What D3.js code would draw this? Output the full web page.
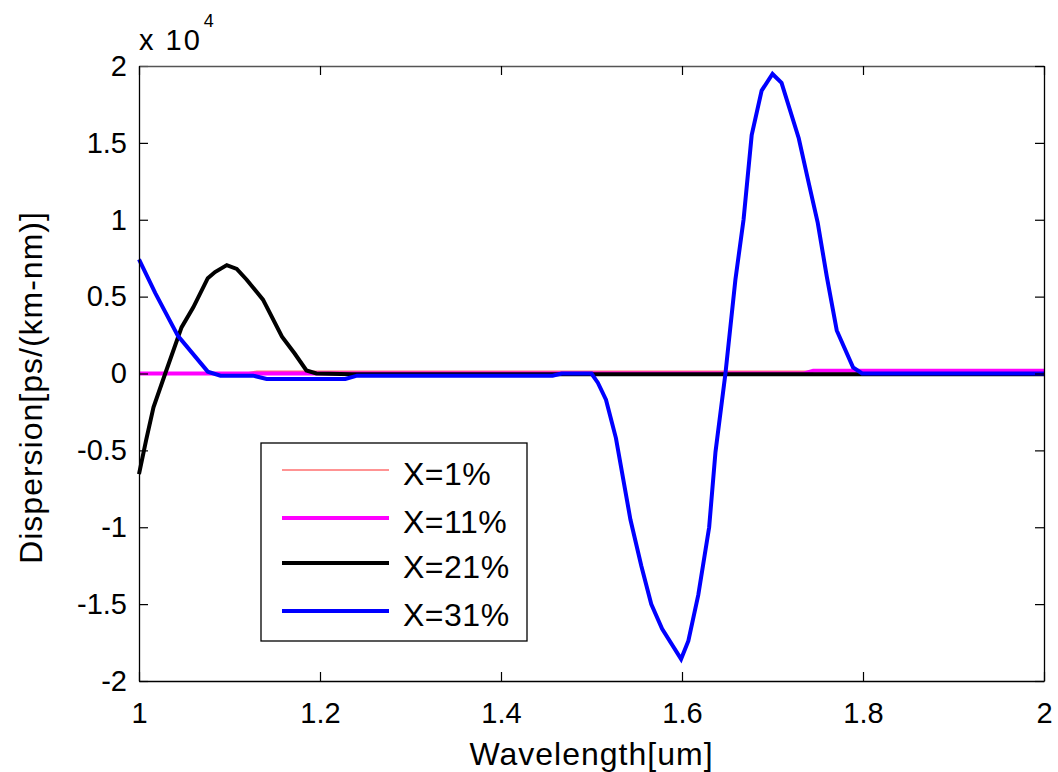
<!DOCTYPE html>
<html>
<head>
<meta charset="utf-8">
<script src="https://cdn.jsdelivr.net/npm/d3@7"></script>
<style>
  html, body { margin: 0; padding: 0; background: #fff; }
  svg { display: block; font-family: "Liberation Sans", Arial, sans-serif; }
</style>
</head>
<body>
<svg id="chart" width="1058" height="772"></svg>
<script>
// Dispersion curves, wavelength in um, dispersion in ps/(km-nm)
const wl1  = [1.000, 1.120, 1.130, 2.000];
const d1   = [30, 30, 150, 150];

const wl11 = [1.000, 1.735, 1.745, 2.000];
const d11  = [0, 0, 180, 180];

const wl21 = [1.000, 1.008, 1.016, 1.029, 1.047, 1.060, 1.076, 1.084, 1.097, 1.108,
              1.119, 1.137, 1.158, 1.172, 1.185, 1.196, 1.236, 2.000];
const d21  = [-6540, -4300, -2200, 0, 3000, 4300, 6200, 6600, 7050, 6800,
              6100, 4800, 2400, 1300, 200, 0, -50, -50];

const wl31 = [1.000, 1.018, 1.043, 1.076, 1.090, 1.126, 1.141, 1.228, 1.241, 1.457,
              1.467, 1.500, 1.507, 1.516, 1.527, 1.543, 1.555, 1.566, 1.578, 1.599,
              1.607, 1.618, 1.630, 1.637, 1.648, 1.659, 1.668, 1.677, 1.688, 1.700,
              1.710, 1.729, 1.740, 1.750, 1.760, 1.771, 1.789, 1.799, 2.000];
const d31  = [7430, 5230, 2450, 120, -140, -140, -360, -360, -140, -140,
              0, 0, -600, -1700, -4200, -9500, -12500, -15000, -16600, -18570,
              -17400, -14400, -10000, -5100, 0, 6100, 10000, 15500, 18400, 19480,
              18900, 15300, 12400, 9800, 6300, 2800, 400, 0, 0];

const seriesNames  = ["X=1%", "X=11%", "X=21%", "X=31%"];
const seriesColors = ["#ff6f6f", "#ff00ff", "#000000", "#0000ff"];
const seriesWidths = [1.5, 4, 4, 4];

const xTicks = [1, 1.2, 1.4, 1.6, 1.8, 2];
const xTickLabels = ["1", "1.2", "1.4", "1.6", "1.8", "2"];
const yTicks = [-20000, -15000, -10000, -5000, 0, 5000, 10000, 15000, 20000];
const yTickLabels = ["-2", "-1.5", "-1", "-0.5", "0", "0.5", "1", "1.5", "2"];

const series = [
  { x: wl1,  y: d1 },
  { x: wl11, y: d11 },
  { x: wl21, y: d21 },
  { x: wl31, y: d31 }
].map((s, i) => ({
  name: seriesNames[i], color: seriesColors[i], width: seriesWidths[i],
  points: s.x.map((v, j) => [v, s.y[j]])
}));

const svg = d3.select("#chart");
const L = 139, R = 1044, T = 66, B = 681;

const x = d3.scaleLinear().domain([1, 2]).range([L, R]);
const y = d3.scaleLinear().domain([-20000, 20000]).range([B, T]);

// Curves
const line = d3.line().x(d => x(d[0])).y(d => y(d[1]));
const curves = svg.append("g");
series.forEach(s => {
  curves.append("path")
    .datum(s.points)
    .attr("d", line)
    .attr("fill", "none")
    .attr("stroke", s.color)
    .attr("stroke-width", s.width)
    .attr("stroke-linejoin", "miter");
});

// Axes (inward ticks, box on all four sides)
const tickFont = "29px";
const gx = svg.append("g").attr("transform", `translate(0,${B})`)
  .call(d3.axisBottom(x).tickValues(xTicks).tickFormat((d, i) => xTickLabels[i])
        .tickSize(-9).tickSizeOuter(0).tickPadding(21));
const gy = svg.append("g").attr("transform", `translate(${L},0)`)
  .call(d3.axisLeft(y).tickValues(yTicks).tickFormat((d, i) => yTickLabels[i])
        .tickSize(-9).tickSizeOuter(0).tickPadding(12));
const gt = svg.append("g").attr("transform", `translate(0,${T})`)
  .call(d3.axisTop(x).tickValues(xTicks).tickFormat("").tickSize(-9).tickSizeOuter(0));
const gr = svg.append("g").attr("transform", `translate(${R},0)`)
  .call(d3.axisRight(y).tickValues(yTicks).tickFormat("").tickSize(-9).tickSizeOuter(0));

[gx, gy, gt, gr].forEach(g => {
  g.selectAll(".domain").attr("stroke", "#000").attr("stroke-width", 1.3);
  g.selectAll(".tick line").attr("stroke", "#000").attr("stroke-width", 1.2);
  g.selectAll(".tick text").attr("fill", "#000")
    .style("font-size", tickFont).style("font-family", "'Liberation Sans', Arial, sans-serif");
});
gt.selectAll(".domain").attr("stroke", "#555");

// Exponent label above the y axis
const expo = svg.append("text").attr("x", L).attr("y", 50)
  .style("font-size", "29px").style("letter-spacing", "2px").attr("fill", "#000");
expo.append("tspan").text("x 10");
expo.append("tspan").attr("dx", 2).attr("dy", -23).style("font-size", "18px").text("4");

// Axis titles
svg.append("text")
  .attr("x", (L + R) / 2).attr("y", 765)
  .attr("text-anchor", "middle")
  .style("font-size", "32px").style("letter-spacing", "1px")
  .text("Wavelength[um]");

svg.append("text")
  .attr("transform", `translate(42,${(T + B) / 2 + 14}) rotate(-90)`)
  .attr("text-anchor", "middle")
  .style("font-size", "32px").style("letter-spacing", "1px")
  .text("Dispersion[ps/(km-nm)]");

// Legend
const lg = svg.append("g");
lg.append("rect").attr("x", 261).attr("y", 443).attr("width", 266).attr("height", 198)
  .attr("fill", "#fff").attr("stroke", "#000").attr("stroke-width", 1.3);
const rowY = [470, 518, 563, 611];
series.forEach((s, i) => {
  lg.append("line")
    .attr("x1", 282).attr("x2", 389).attr("y1", rowY[i]).attr("y2", rowY[i])
    .attr("stroke", s.color).attr("stroke-width", s.width);
  lg.append("text").attr("x", 403).attr("y", rowY[i] + 15)
    .style("font-size", "32px").style("letter-spacing", "0.5px").attr("fill", "#000")
    .text(s.name);
});
</script>
</body>
</html>
